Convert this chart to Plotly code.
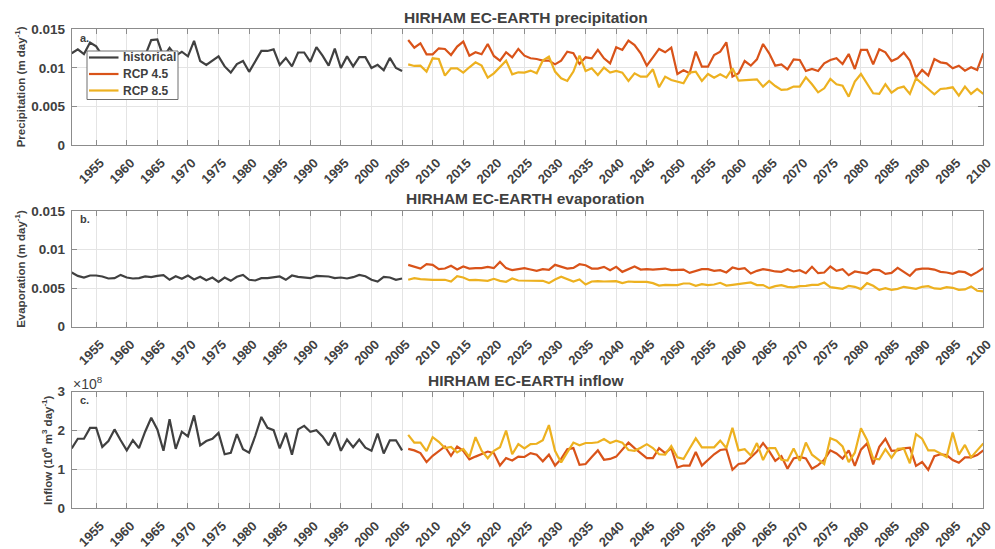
import plotly.graph_objects as go

# ---------------- data ----------------
years_hist = list(range(1951, 2006))
years_rcp = list(range(2006, 2101))
xtick_years = list(range(1955, 2101, 5))
xtick_labels = [str(y) for y in xtick_years]

series_names = ["historical", "RCP 4.5", "RCP 8.5"]

precip_hist = [0.0119, 0.0124, 0.0118, 0.0133, 0.0128, 0.0116, 0.0110, 0.0117, 0.0106, 0.0113,
               0.0118, 0.0108, 0.0116, 0.0136, 0.0137, 0.0114, 0.0126, 0.0116, 0.0121, 0.0115,
               0.0135, 0.0109, 0.0104, 0.0109, 0.0115, 0.0102, 0.0094, 0.0105, 0.0109, 0.0095,
               0.0109, 0.0122, 0.0122, 0.0124, 0.0104, 0.0113, 0.0102, 0.0120, 0.0120, 0.0108,
               0.0127, 0.0116, 0.0103, 0.0125, 0.0100, 0.0115, 0.0102, 0.0114, 0.0114, 0.0100,
               0.0104, 0.0097, 0.0113, 0.0100, 0.0096]
precip_rcp45 = [0.01362, 0.01263, 0.01319, 0.01177, 0.01177, 0.01254, 0.01246, 0.01168, 0.01276, 0.01341,
                0.01159, 0.01203, 0.01177, 0.01310, 0.01155, 0.01095, 0.01203, 0.01138, 0.01246, 0.01159,
                0.01125, 0.01116, 0.01095, 0.01095, 0.01047, 0.01095, 0.01211, 0.01190, 0.01052, 0.01138,
                0.01125, 0.01233, 0.01125, 0.01060, 0.01267, 0.01233, 0.01353, 0.01297, 0.01190, 0.01030,
                0.01138, 0.01246, 0.01203, 0.01263, 0.00922, 0.00970, 0.00931, 0.01211, 0.01017, 0.01017,
                0.01168, 0.01211, 0.01332, 0.00888, 0.00931, 0.01090, 0.01030, 0.01112, 0.01310, 0.01190,
                0.01030, 0.01047, 0.00983, 0.01112, 0.01103, 0.00961, 0.00987, 0.00961, 0.01060, 0.01103,
                0.01125, 0.01052, 0.01181, 0.00987, 0.01233, 0.01233, 0.01047, 0.01241, 0.01203, 0.01090,
                0.01125, 0.01198, 0.01095, 0.00875, 0.00974, 0.00901, 0.01116, 0.01073, 0.01060, 0.00996,
                0.01030, 0.00966, 0.01009, 0.00974, 0.01190]
precip_rcp85 = [0.01047, 0.01026, 0.01030, 0.00953, 0.01125, 0.01116, 0.00901, 0.00996, 0.00996, 0.00940,
                0.01009, 0.01073, 0.01030, 0.00875, 0.00931, 0.01009, 0.01095, 0.00918, 0.00944, 0.00940,
                0.00966, 0.00931, 0.01095, 0.01147, 0.00953, 0.00866, 0.00832, 0.00953, 0.01159, 0.00961,
                0.00996, 0.00909, 0.01004, 0.00940, 0.00961, 0.00940, 0.00832, 0.00931, 0.00888, 0.00888,
                0.00983, 0.00750, 0.00888, 0.00845, 0.00823, 0.00802, 0.00940, 0.00953, 0.00832, 0.00922,
                0.00875, 0.00918, 0.00875, 0.00996, 0.00836, 0.00840, 0.00845, 0.00853, 0.00759, 0.00832,
                0.00767, 0.00716, 0.00724, 0.00759, 0.00759, 0.00879, 0.00789, 0.00685, 0.00737, 0.00858,
                0.00789, 0.00772, 0.00629, 0.00823, 0.00922, 0.00802, 0.00672, 0.00664, 0.00789, 0.00681,
                0.00737, 0.00759, 0.00664, 0.00866, 0.00802, 0.00728, 0.00659, 0.00728, 0.00737, 0.00750,
                0.00642, 0.00759, 0.00664, 0.00728, 0.00664]

evap_hist = [0.00703, 0.00659, 0.00638, 0.00664, 0.00664, 0.00651, 0.00625, 0.00629, 0.00672, 0.00638,
             0.00625, 0.00629, 0.00651, 0.00642, 0.00659, 0.00668, 0.00608, 0.00655, 0.00621, 0.00664,
             0.00612, 0.00647, 0.00603, 0.00638, 0.00582, 0.00638, 0.00595, 0.00647, 0.00672, 0.00608,
             0.00599, 0.00629, 0.00629, 0.00638, 0.00651, 0.00608, 0.00664, 0.00647, 0.00638, 0.00629,
             0.00659, 0.00651, 0.00651, 0.00629, 0.00638, 0.00625, 0.00642, 0.00672, 0.00655, 0.00608,
             0.00586, 0.00647, 0.00638, 0.00608, 0.00625]
evap_rcp45 = [0.00802, 0.00776, 0.00754, 0.00810, 0.00802, 0.00746, 0.00754, 0.00789, 0.00741, 0.00780,
              0.00754, 0.00759, 0.00759, 0.00776, 0.00759, 0.00840, 0.00759, 0.00733, 0.00746, 0.00759,
              0.00741, 0.00724, 0.00746, 0.00737, 0.00802, 0.00780, 0.00754, 0.00763, 0.00810, 0.00797,
              0.00754, 0.00754, 0.00776, 0.00733, 0.00776, 0.00711, 0.00741, 0.00780, 0.00741, 0.00746,
              0.00741, 0.00746, 0.00754, 0.00733, 0.00733, 0.00741, 0.00698, 0.00724, 0.00746, 0.00746,
              0.00724, 0.00733, 0.00703, 0.00767, 0.00746, 0.00759, 0.00690, 0.00724, 0.00746, 0.00733,
              0.00716, 0.00711, 0.00746, 0.00716, 0.00733, 0.00694, 0.00776, 0.00694, 0.00703, 0.00780,
              0.00724, 0.00746, 0.00668, 0.00716, 0.00703, 0.00690, 0.00741, 0.00733, 0.00685, 0.00698,
              0.00763, 0.00716, 0.00659, 0.00741, 0.00754, 0.00754, 0.00741, 0.00711, 0.00703, 0.00685,
              0.00716, 0.00707, 0.00664, 0.00707, 0.00759]
evap_rcp85 = [0.00608, 0.00629, 0.00616, 0.00608, 0.00608, 0.00608, 0.00608, 0.00586, 0.00655, 0.00638,
              0.00603, 0.00608, 0.00603, 0.00595, 0.00621, 0.00595, 0.00582, 0.00625, 0.00599, 0.00599,
              0.00595, 0.00599, 0.00595, 0.00565, 0.00612, 0.00647, 0.00616, 0.00586, 0.00612, 0.00547,
              0.00586, 0.00591, 0.00586, 0.00591, 0.00591, 0.00565, 0.00586, 0.00582, 0.00586, 0.00582,
              0.00565, 0.00534, 0.00543, 0.00543, 0.00539, 0.00560, 0.00560, 0.00530, 0.00552, 0.00539,
              0.00547, 0.00569, 0.00534, 0.00543, 0.00556, 0.00569, 0.00573, 0.00539, 0.00539, 0.00500,
              0.00526, 0.00539, 0.00517, 0.00509, 0.00526, 0.00530, 0.00543, 0.00543, 0.00573, 0.00513,
              0.00504, 0.00491, 0.00530, 0.00517, 0.00487, 0.00565, 0.00530, 0.00478, 0.00500, 0.00478,
              0.00491, 0.00517, 0.00504, 0.00491, 0.00517, 0.00526, 0.00496, 0.00491, 0.00513, 0.00504,
              0.00478, 0.00483, 0.00522, 0.00466, 0.00457]

# inflow in units of 1e8
inflow_hist = [1.54, 1.79, 1.79, 2.07, 2.07, 1.58, 1.73, 2.03, 1.75, 1.49,
               1.75, 1.55, 1.97, 2.33, 2.03, 1.48, 2.29, 1.53, 1.97, 1.85,
               2.39, 1.62, 1.73, 1.79, 1.94, 1.39, 1.43, 1.91, 1.52, 1.43,
               1.86, 2.35, 2.07, 2.01, 1.54, 1.94, 1.38, 2.03, 2.12, 1.97,
               2.01, 1.85, 1.62, 1.95, 1.48, 1.77, 1.57, 1.77, 1.56, 1.48,
               1.92, 1.41, 1.75, 1.75, 1.49]
inflow_rcp45 = [1.53, 1.49, 1.42, 1.19, 1.35, 1.48, 1.59, 1.35, 1.59, 1.48,
                1.26, 1.33, 1.40, 1.46, 1.42, 1.10, 1.29, 1.23, 1.33, 1.32,
                1.42, 1.38, 1.21, 1.38, 1.10, 1.27, 1.52, 1.55, 1.12, 1.14,
                1.32, 1.49, 1.25, 1.27, 1.33, 1.52, 1.69, 1.55, 1.42, 1.29,
                1.29, 1.55, 1.42, 1.55, 1.05, 1.10, 1.10, 1.45, 1.10, 1.25,
                1.39, 1.50, 1.52, 0.99, 1.14, 1.16, 1.30, 1.46, 1.68, 1.47,
                1.22, 1.34, 1.02, 1.28, 1.32, 1.28, 1.02, 1.11, 1.25, 1.49,
                1.41, 1.28, 1.49, 1.09, 1.51, 1.67, 1.13, 1.58, 1.79, 1.48,
                1.49, 1.54, 1.56, 1.09, 1.19, 0.99, 1.34, 1.39, 1.37, 1.24,
                1.17, 1.31, 1.31, 1.37, 1.49]
inflow_rcp85 = [1.89, 1.69, 1.69, 1.47, 1.83, 1.71, 1.55, 1.58, 1.44, 1.53,
                1.32, 1.83, 1.48, 1.29, 1.48, 1.57, 2.00, 1.39, 1.65, 1.54,
                1.65, 1.66, 1.75, 2.14, 1.48, 1.18, 1.44, 1.69, 1.62, 1.68,
                1.68, 1.70, 1.78, 1.68, 1.74, 1.69, 1.50, 1.48, 1.56, 1.65,
                1.55, 1.39, 1.38, 1.60, 1.31, 1.27, 1.54, 1.80, 1.57, 1.57,
                1.57, 1.74, 1.55, 2.07, 1.49, 1.52, 1.36, 1.68, 1.24, 1.55,
                1.55, 1.25, 1.23, 1.54, 1.22, 1.69, 1.38, 1.26, 1.14, 1.80,
                1.74, 1.59, 1.19, 1.43, 2.06, 1.76, 1.28, 1.26, 1.52, 1.30,
                1.53, 1.54, 1.16, 1.91, 1.79, 1.49, 1.49, 1.41, 1.32, 1.95,
                1.38, 1.63, 1.31, 1.49, 1.67]

# ---------------- styling ----------------
W, H = 995, 549
C_HIST, C_45, C_85 = "#404040", "#D95319", "#EDB120"
series_colors = [C_HIST, C_45, C_85]
TXT = "#404040"
FRAME = "#8c8c8c"
GRID = "#e4e4e4"
FONT = "Liberation Sans, Arial, sans-serif"


def px_x(x):
    return x / W


def px_y(y):
    return 1 - y / H


panels = [
    dict(top=29.3, bot=145.3, hist=precip_hist, r45=precip_rcp45, r85=precip_rcp85,
         rng=[0, 0.015], tv=[0, 0.005, 0.01, 0.015], tt=["0", "0.005", "0.01", "0.015"],
         title="HIRHAM EC-EARTH precipitation", ylab="Precipitation (m day<sup>-1</sup>)",
         ylab_x=20, lab="a.", title_y=17.5),
    dict(top=211.0, bot=326.7, hist=evap_hist, r45=evap_rcp45, r85=evap_rcp85,
         rng=[0, 0.015], tv=[0, 0.005, 0.01, 0.015], tt=["0", "0.005", "0.01", "0.015"],
         title="HIRHAM EC-EARTH evaporation", ylab="Evaporation (m day<sup>-1</sup>)",
         ylab_x=20, lab="b.", title_y=198.5),
    dict(top=391.7, bot=508.3, hist=inflow_hist, r45=inflow_rcp45, r85=inflow_rcp85,
         rng=[0, 3], tv=[0, 1, 2, 3], tt=["0", "1", "2", "3"],
         title="HIRHAM EC-EARTH inflow", ylab="Inflow (10<sup>6</sup> m<sup>3</sup> day<sup>-1</sup>)",
         ylab_x=47, lab="c.", title_y=380),
]

x0, x1 = 71.7, 983.3

fig = go.Figure()
annotations = []
shapes = []
layout = {}

for i, p in enumerate(panels):
    n = "" if i == 0 else str(i + 1)
    xa, ya = "x" + n, "y" + n
    for name, xs, ys, col in [(series_names[0], years_hist, p["hist"], C_HIST),
                              (series_names[1], years_rcp, p["r45"], C_45),
                              (series_names[2], years_rcp, p["r85"], C_85)]:
        fig.add_trace(go.Scatter(x=xs, y=ys, mode="lines", name=name,
                                 line=dict(color=col, width=2.2),
                                 xaxis=xa, yaxis=ya, showlegend=False))
    common = dict(showline=True, linecolor=FRAME, linewidth=1, mirror="ticks",
                  ticks="inside", ticklen=5, tickcolor=FRAME, tickwidth=1,
                  showgrid=True, gridcolor=GRID, gridwidth=1, zeroline=False,
                  automargin=False)
    layout["xaxis" + n] = dict(common, domain=[px_x(x0), px_x(x1)], range=[1951, 2100],
                               tickmode="array", tickvals=xtick_years, ticktext=xtick_labels,
                               tickangle=-45, anchor=ya, ticklabelstandoff=4, ticklabelshift=4,
                               tickfont=dict(family=FONT, size=13, color=TXT, weight="bold"))
    layout["yaxis" + n] = dict(common, domain=[px_y(p["bot"]), px_y(p["top"])], range=p["rng"],
                               tickmode="array", tickvals=p["tv"], ticktext=p["tt"], anchor=xa,
                               ticklabelstandoff=3,
                               tickfont=dict(family=FONT, size=13.5, color=TXT, weight="bold"))
    annotations.append(dict(text="<b>" + p["title"] + "</b>", x=px_x((x0 + x1) / 2 - 2), y=px_y(p["title_y"]),
                            xref="paper", yref="paper", xanchor="center", yanchor="middle",
                            showarrow=False, font=dict(family=FONT, size=15.5, color=TXT)))
    annotations.append(dict(text="<b>" + p["ylab"] + "</b>", x=px_x(p["ylab_x"]),
                            y=px_y((p["top"] + p["bot"]) / 2), textangle=-90,
                            xref="paper", yref="paper", xanchor="center", yanchor="middle",
                            showarrow=False, font=dict(family=FONT, size=11.5, color=TXT)))
    annotations.append(dict(text="<b>" + p["lab"] + "</b>", x=px_x(78), y=px_y(p["top"] + 8.5),
                            xref="paper", yref="paper", xanchor="left", yanchor="middle",
                            showarrow=False, font=dict(family=FONT, size=11, color=TXT)))

annotations.append(dict(text="×10<sup>8</sup>", x=px_x(71), y=px_y(383),
                        xref="paper", yref="paper", xanchor="left", yanchor="middle",
                        showarrow=False, font=dict(family=FONT, size=14, color=TXT)))

# legend box (drawn over the lines, like the reference)
lg_x0, lg_x1, lg_y0, lg_y1 = 87, 178, 51, 99.5
shapes.append(dict(type="rect", xref="paper", yref="paper", layer="above",
                   x0=px_x(lg_x0), x1=px_x(lg_x1), y0=px_y(lg_y1), y1=px_y(lg_y0),
                   fillcolor="white", line=dict(color="#6e6e6e", width=1)))
row_y = [57.5, 74, 90.5]
for name, col, ry in zip(series_names, series_colors, row_y):
    shapes.append(dict(type="line", xref="paper", yref="paper", layer="above",
                       x0=px_x(89), x1=px_x(118.5), y0=px_y(ry), y1=px_y(ry),
                       line=dict(color=col, width=2.2)))
    annotations.append(dict(text="<b>" + name + "</b>", x=px_x(121), y=px_y(ry),
                            xref="paper", yref="paper", xanchor="left", yanchor="middle",
                            showarrow=False, font=dict(family=FONT, size=12, color=TXT)))

fig.update_layout(
    width=W, height=H,
    margin=dict(l=0, r=0, t=0, b=0),
    paper_bgcolor="white", plot_bgcolor="white",
    showlegend=False,
    annotations=annotations,
    shapes=shapes,
    **layout,
)

fig.write_html("out.html", config={"displayModeBar": False},
               post_script="document.body.style.margin='0';document.body.style.overflow='hidden';")
